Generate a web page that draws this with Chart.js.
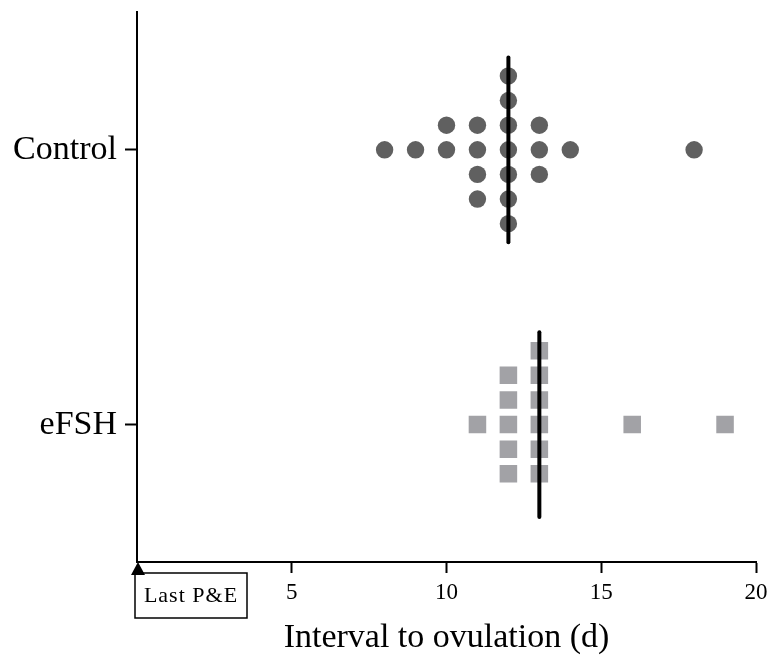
<!DOCTYPE html>
<html>
<head>
<meta charset="utf-8">
<script src="https://cdn.jsdelivr.net/npm/chart.js@4/dist/chart.umd.min.js"></script>
<style>
  body { margin: 0; background: #fff; }
  canvas { display: block; }
</style>
</head>
<body>
<canvas id="chart" width="771" height="655"></canvas>
<script>
// groups on the y axis (position 1 = eFSH, 2 = Control)
const groupNames = ["eFSH", "Control"];

// each dot: interval value and its row in the stack (0 = on the group line)
const controlX   = [12, 12, 10, 11, 12, 13, 8, 9, 10, 11, 12, 13, 14, 18, 11, 12, 13, 11, 12, 12];
const controlRow = [ 3,  2,  1,  1,  1,  1, 0, 0,  0,  0,  0,  0,  0,  0, -1, -1, -1, -2, -2, -3];
const efshX      = [13, 12, 13, 12, 13, 11, 12, 13, 16, 19, 12, 13, 12, 13];
const efshRow    = [ 3,  2,  2,  1,  1,  0,  0,  0,  0,  0, -1, -1, -2, -2];

const controlMedian = 12;
const efshMedian = 13;

const xTicks = [0, 5, 10, 15, 20];

const rowStep = 0.0896;   // vertical spacing between stacked dots
const medianHalf = 3.75;  // median bar half-length, in rows

const toPoints = (xs, rows, pos) => xs.map((x, i) => ({ x: x, y: pos + rows[i] * rowStep }));
const medianLine = (m, pos) => [
  { x: m, y: pos - medianHalf * rowStep },
  { x: m, y: pos + medianHalf * rowStep }
];

const serif = "'Liberation Serif', 'Times New Roman', serif";

// arrow + "Last P&E" box at the origin
const lastPEPlugin = {
  id: "lastPE",
  afterDraw(chart) {
    const ctx = chart.ctx;
    const x0 = chart.scales.x.getPixelForValue(0) + 1;
    const yb = chart.chartArea.bottom;
    ctx.save();
    const bx = x0 - 3, by = yb + 11, bw = 112, bh = 45;
    ctx.fillStyle = "#fff";
    ctx.fillRect(bx, by, bw, bh);
    ctx.strokeStyle = "#000";
    ctx.lineWidth = 1.5;
    ctx.strokeRect(bx, by, bw, bh);

    ctx.fillStyle = "#000";
    ctx.beginPath();
    ctx.moveTo(x0, yb);
    ctx.lineTo(x0 - 7, yb + 13);
    ctx.lineTo(x0 + 7, yb + 13);
    ctx.closePath();
    ctx.fill();

    ctx.font = "22px " + serif;
    ctx.letterSpacing = "1px";
    ctx.textAlign = "center";
    ctx.textBaseline = "middle";
    ctx.fillText("Last P&E", bx + bw / 2, by + bh / 2 + 1);
    ctx.restore();
  }
};

new Chart(document.getElementById("chart"), {
  type: "scatter",
  data: {
    datasets: [
      {
        type: "line",
        data: medianLine(controlMedian, 2),
        borderColor: "#000",
        borderWidth: 4,
        pointRadius: 0,
        borderCapStyle: "round"
      },
      {
        type: "line",
        data: medianLine(efshMedian, 1),
        borderColor: "#000",
        borderWidth: 4,
        pointRadius: 0,
        borderCapStyle: "round"
      },
      {
        data: toPoints(controlX, controlRow, 2),
        pointStyle: "circle",
        pointRadius: 8.7,
        pointHoverRadius: 8.7,
        backgroundColor: "#606060",
        borderWidth: 0
      },
      {
        data: toPoints(efshX, efshRow, 1),
        pointStyle: "rect",
        pointRadius: 12.4,
        pointHoverRadius: 12.4,
        backgroundColor: "#a2a2a6",
        borderWidth: 0
      }
    ]
  },
  options: {
    responsive: false,
    animation: false,
    events: [],
    layout: { padding: { top: 11, right: 15, left: 0, bottom: 0 } },
    plugins: { legend: { display: false }, tooltip: { enabled: false } },
    scales: {
      x: {
        type: "linear",
        min: 0,
        max: 20,
        afterBuildTicks: (scale) => { scale.ticks = xTicks.map(v => ({ value: v })); },
        afterFit: (scale) => {
          scale.height = 93;
          scale.paddingLeft = 0;
          scale.paddingRight = 0;
        },
        border: { display: true, color: "#000", width: 2 },
        grid: {
          drawOnChartArea: false,
          drawTicks: true,
          tickLength: 11,
          tickWidth: 2,
          tickColor: (c) => (c.tick && c.tick.value === 0 ? "rgba(0,0,0,0)" : "#000")
        },
        ticks: {
          color: "#000",
          padding: 6,
          maxRotation: 0,
          font: { family: serif, size: 23 },
          callback: (v) => (v === 0 ? "" : String(v))
        },
        title: {
          display: true,
          text: "Interval to ovulation (d)",
          color: "#000",
          padding: 0,
          font: { family: serif, size: 34, lineHeight: 1 }
        }
      },
      y: {
        type: "linear",
        min: 0.5,
        max: 2.5,
        afterBuildTicks: (scale) => { scale.ticks = [{ value: 1 }, { value: 2 }]; },
        afterFit: (scale) => {
          scale.width = 137;
          scale.paddingTop = 0;
          scale.paddingBottom = 0;
        },
        border: { display: true, color: "#000", width: 2 },
        grid: {
          drawOnChartArea: false,
          drawTicks: true,
          tickLength: 12,
          tickWidth: 2,
          tickColor: "#000"
        },
        ticks: {
          color: "#000",
          padding: 8,
          font: { family: serif, size: 34 },
          callback: (v) => groupNames[v - 1]
        }
      }
    }
  },
  plugins: [lastPEPlugin]
});
</script>
</body>
</html>
